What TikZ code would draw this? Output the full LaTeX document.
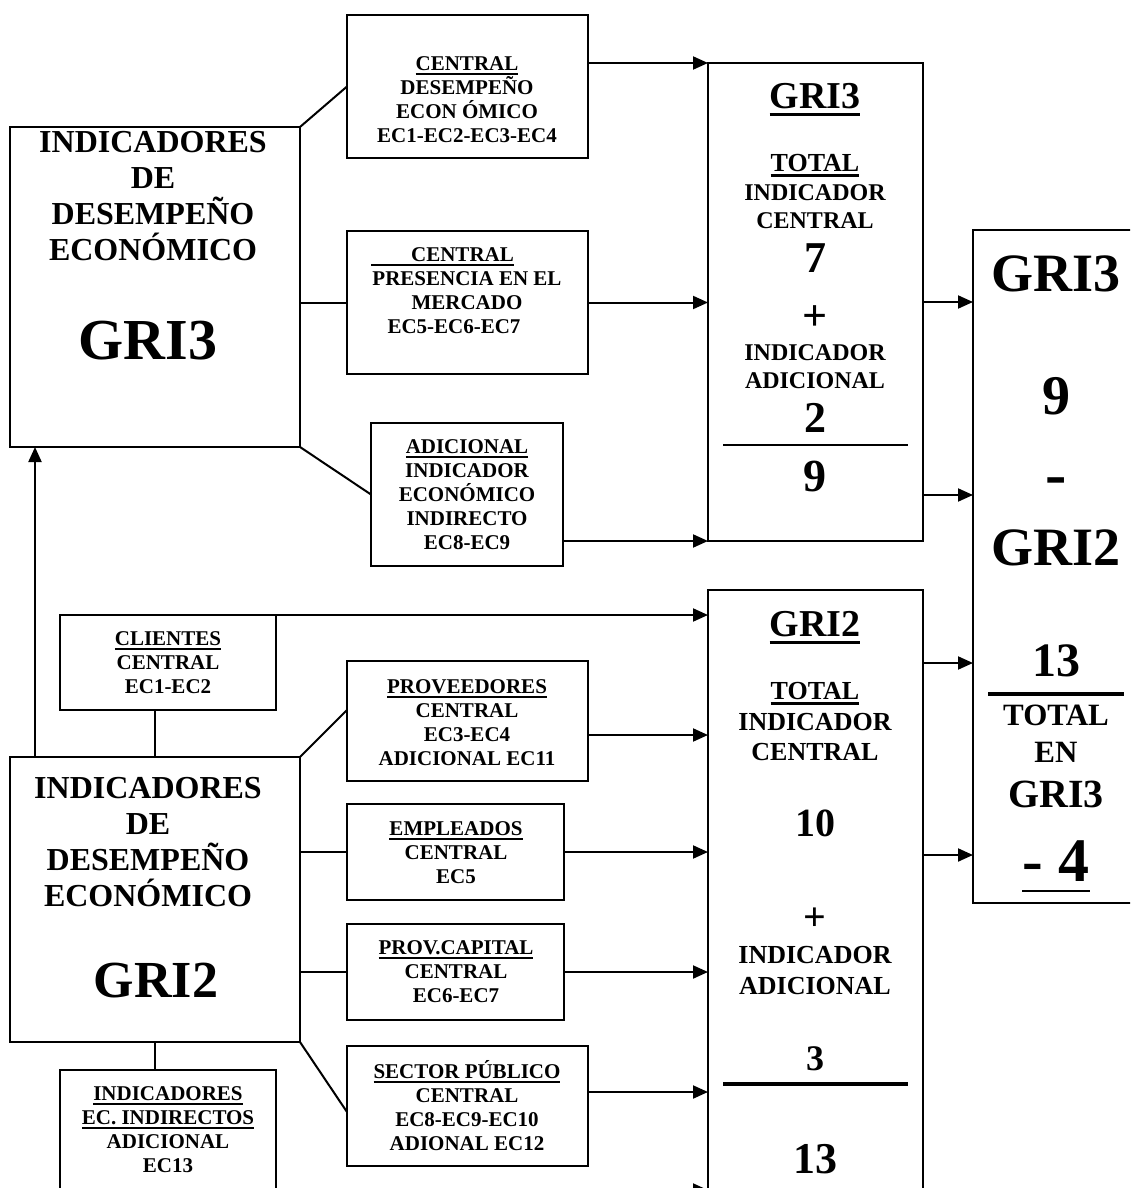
\documentclass[tikz,border=0pt]{standalone}
\usepackage{fontspec}
\setmainfont{Liberation Serif}
\usetikzlibrary{arrows.meta}
\newcommand\myulx[3]{\leavevmode\setbox0\hbox{#3}\rlap{\vrule height -#1 depth \dimexpr#1+#2\relax width \wd0}\box0}
\newcommand\myul[1]{\myulx{0.11em}{0.09em}{#1}}
\begin{document}
\begin{tikzpicture}[x=0.5pt,y=-0.5pt,
  box/.style={draw, line width=1pt, inner sep=0pt, outer sep=0pt},
  con/.style={line width=1pt},
  arr/.style={con, -{Triangle[length=7.5pt,width=6.5pt]}},
  txt/.style={align=center, inner sep=0pt, font=\bfseries},
  sm/.style={txt, font=\fontsize{10.5}{12}\selectfont\bfseries},
  big/.style={txt, font=\fontsize{16}{18}\selectfont\bfseries},
  fs/.style={txt, anchor=base, font=\fontsize{#1}{#1}\selectfont\bfseries}]
\useasboundingbox (0,0) rectangle (1130,1188);
\fill[white] (0,0) rectangle (1130,1188);
\clip (0,0) rectangle (1130,1188);

% boxes
\node[box, minimum width=145pt, minimum height=160pt] (L3) at (155,287) {};
\node[box, minimum width=120.5pt, minimum height=71.5pt] (A) at (467.5,86.5) {};
\node[box, minimum width=120.5pt, minimum height=71.5pt] (B) at (467.5,302.5) {};
\node[box, minimum width=96pt, minimum height=71.5pt] (C) at (467,494.5) {};
\node[box, minimum width=107.5pt, minimum height=239pt] (M3) at (815.5,302) {};
\node[box, minimum width=83.5pt, minimum height=336.5pt] (R) at (1056.5,566.5) {};
\node[box, minimum width=107.5pt, minimum height=305pt] (M2) at (815.5,895) {};
\node[box, minimum width=108pt, minimum height=47.5pt] (Cl) at (168,662.5) {};
\node[box, minimum width=145pt, minimum height=142.5pt] (L2) at (155,899.5) {};
\node[box, minimum width=120.5pt, minimum height=60pt] (P) at (467.5,721) {};
\node[box, minimum width=108.5pt, minimum height=48pt] (E) at (455.5,852) {};
\node[box, minimum width=108.5pt, minimum height=48pt] (PC) at (455.5,972) {};
\node[box, minimum width=120.5pt, minimum height=60pt] (S) at (467.5,1106) {};
\node[box, minimum width=108pt, minimum height=65pt] (IE) at (168,1135) {};

% connectors upper part
\draw[con] (L3.north east) -- (A.west);
\draw[con] (L3.east |- B.west) -- (B.west);
\draw[con] (L3.south east) -- (C.west);
\draw[arr] (A.east |- M3.north west) -- (M3.north west);
\draw[arr] (B.east) -- (M3.west |- B.east);
\draw[arr] (C.east |- M3.south west) -- (M3.south west);
\coordinate (m3o2) at ([yshift=-96.5pt]M3.east);
\draw[arr] (M3.east) -- (R.west |- M3.east);
\draw[arr] (m3o2) -- (R.west |- m3o2);
\coordinate (m2o1) at ([yshift=116pt]M2.east);
\coordinate (m2o2) at ([yshift=20pt]M2.east);
\draw[arr] (m2o1) -- (R.west |- m2o1);
\draw[arr] (m2o2) -- (R.west |- m2o2);

% connectors lower part
\draw[arr] ([xshift=12.5pt]L2.north west) -- ([xshift=12.5pt]L3.south west);
\draw[arr] (Cl.north east) -- (M2.west |- Cl.north east);
\draw[con] (L2.north) -- (L2.north |- Cl.south);
\draw[con] (L2.north east) -- ([yshift=5.5pt]P.west);
\draw[con] (L2.east |- E.west) -- (E.west);
\draw[con] (L2.east |- PC.west) -- (PC.west);
\draw[con] (L2.south east) -- ([yshift=-3pt]S.west);
\draw[con] (L2.south) -- (L2.south |- IE.north);
\coordinate (po) at ([yshift=-7pt]P.east);
\draw[arr] (po) -- (M2.west |- po);
\draw[arr] (E.east) -- (M2.west |- E.east);
\draw[arr] (PC.east) -- (M2.west |- PC.east);
\coordinate (so) at ([yshift=7pt]S.east);
\draw[arr] (so) -- (M2.west |- so);
\coordinate (ieo) at ([yshift=-27.5pt]IE.east);
\draw[arr] (ieo) -- (M2.west |- ieo);

% small box texts
\node[sm] (At) at (467,100) {\myul{CENTRAL}\\DESEMPEÑO\\ECON ÓMICO\\EC1-EC2-EC3-EC4};
\node[sm] (Bt) at (467,291) {\myul{\hspace*{20pt}CENTRAL}\hspace*{24.5pt}\\PRESENCIA EN EL\\MERCADO\hspace*{13pt}\\EC5-EC6-EC7\hspace*{13pt}};
\node[sm] (Ct) at (467,495) {\myul{ADICIONAL}\\INDICADOR\\ECONÓMICO\\INDIRECTO\\EC8-EC9};
\node[sm] (Clt) at (168,663) {\myul{CLIENTES}\\CENTRAL\\EC1-EC2};
\node[sm] (Pt) at (467,723) {\myul{PROVEEDORES}\\CENTRAL\\EC3-EC4\\ADICIONAL EC11};
\node[sm] (Et) at (456,853) {\myul{EMPLEADOS}\\CENTRAL\\EC5};
\node[sm] (PCt) at (456,972) {\myul{PROV.CAPITAL}\\CENTRAL\\EC6-EC7};
\node[sm] (St) at (467,1106) {\myul{SECTOR PÚBLICO}\\CENTRAL\\EC8-EC9-EC10\\ADIONAL EC12};
\node[sm] (IEt) at (168,1130) {\myul{INDICADORES}\\\myul{EC. INDIRECTOS}\\ADICIONAL\\EC13};

% left big boxes
\node[big] (L3t) at (153,196) {INDICADORES\\DE\\DESEMPEÑO\\ECONÓMICO};
\node[fs=29] (L3g) at (148,359) {GRI3};
\node[big] (L2t) at (148,842) {INDICADORES\\DE\\DESEMPEÑO\\ECONÓMICO};
\node[fs=26] (L2g) at (156,997) {GRI2};

% middle GRI3 box
\node[fs=19] (m3a) at (815,108.5) {\myul{GRI3}};
\node[fs=13] (m3b) at (815,171.6) {\myul{TOTAL}};
\node[fs=12] (m3c) at (815,200) {INDICADOR};
\node[fs=12] (m3d) at (815,228) {CENTRAL};
\node[fs=22] (m3e) at (815,272.5) {7};
\node[fs=22] (m3f) at (815,330) {+};
\node[fs=12] (m3g) at (815,360) {INDICADOR};
\node[fs=12] (m3h) at (815,388) {ADICIONAL};
\node[fs=22] (m3i) at (815,432.5) {2};
\draw[line width=1pt] (723,445) -- (908,445);
\node[fs=23] (m3j) at (815,491) {9};

% right box
\node[fs=27] (ra) at (1056,291) {GRI3};
\node[fs=28] (rb) at (1056,414.5) {9};
\node[fs=32] (rc) at (1056,495) {-};
\node[fs=27] (rd) at (1056,565) {GRI2};
\node[fs=24] (re) at (1056,676) {13};
\draw[line width=2pt] (988,694) -- (1124,694);
\node[fs=15.5] (rf) at (1056,725) {TOTAL};
\node[fs=15.5] (rg) at (1056,762) {EN};
\node[fs=20] (rh) at (1056,807) {GRI3};
\node[fs=31] (ri) at (1056,881) {\myulx{4.5pt}{0.8pt}{- 4}};

% middle GRI2 box
\node[fs=19] (m2a) at (815,636.5) {\myul{GRI2}};
\node[fs=13] (m2b) at (815,699.6) {\myul{TOTAL}};
\node[fs=13] (m2c) at (815,730.6) {INDICADOR};
\node[fs=13] (m2d) at (815,760.6) {CENTRAL};
\node[fs=20] (m2e) at (815,836.5) {10};
\node[fs=20] (m2f) at (815,930) {+};
\node[fs=13] (m2g) at (815,963.6) {INDICADOR};
\node[fs=13] (m2h) at (815,994.6) {ADICIONAL};
\node[fs=18] (m2i) at (815,1070) {3};
\draw[line width=2pt] (723,1084) -- (908,1084);
\node[fs=22] (m2j) at (815,1173) {13};
\end{tikzpicture}
\end{document}
